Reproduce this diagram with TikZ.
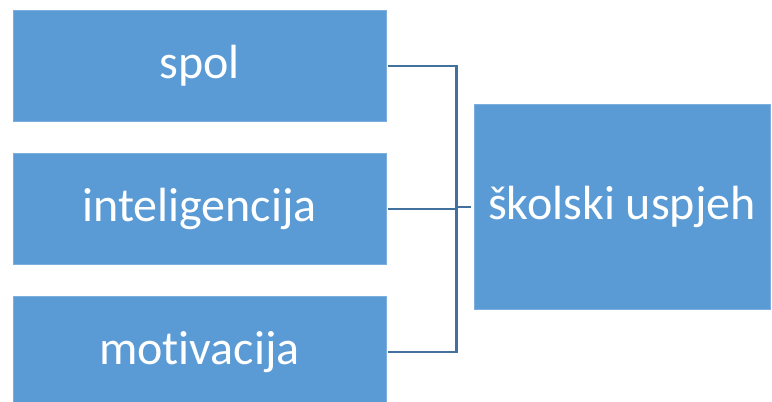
\documentclass[tikz,border=0pt]{standalone}
\usepackage{fontspec}
\setmainfont{Carlito}[Ligatures=NoCommon]
\usepackage{tikz}
\usetikzlibrary{positioning}
\definecolor{boxfill}{HTML}{5B9BD5}
\definecolor{linkline}{HTML}{41719C}

\begin{document}
\begin{tikzpicture}[x=1pt, y=1pt,
  factor/.style={fill=boxfill, draw=boxfill!80!white, line width=.6pt, text=white,
    minimum width=373pt, minimum height=111pt, inner sep=0pt,
    font=\fontsize{48}{57}\selectfont},
  link/.style={draw=linkline, line width=2.2pt}]
\useasboundingbox (0,0) rectangle (772,402);
%\draw[step=10pt,gray,very thin] (0,0) grid (772,402);
\node[factor] (spol) at (199.5,336) {spol};%%
\node[factor] (inteligencija) at (199.5,193) {inteligencija};%%
\node[factor] (motivacija) at (199.5,50) {motivacija};%%
\node[factor, minimum width=296pt, minimum height=205pt] (uspjeh) at (622,195) {školski uspjeh};%%
\coordinate (bus) at (456.5,0);%%
\draw[link] ([xshift=2pt]spol.east) -- (spol.east -| bus) -- (motivacija.east -| bus) -- ([xshift=2pt]motivacija.east);%%
\draw[link] ([xshift=2pt]inteligencija.east) -- (inteligencija.east -| bus);%%
\draw[link] (uspjeh.west -| bus) -- ([xshift=-3pt]uspjeh.west);%%
\end{tikzpicture}
\end{document}
